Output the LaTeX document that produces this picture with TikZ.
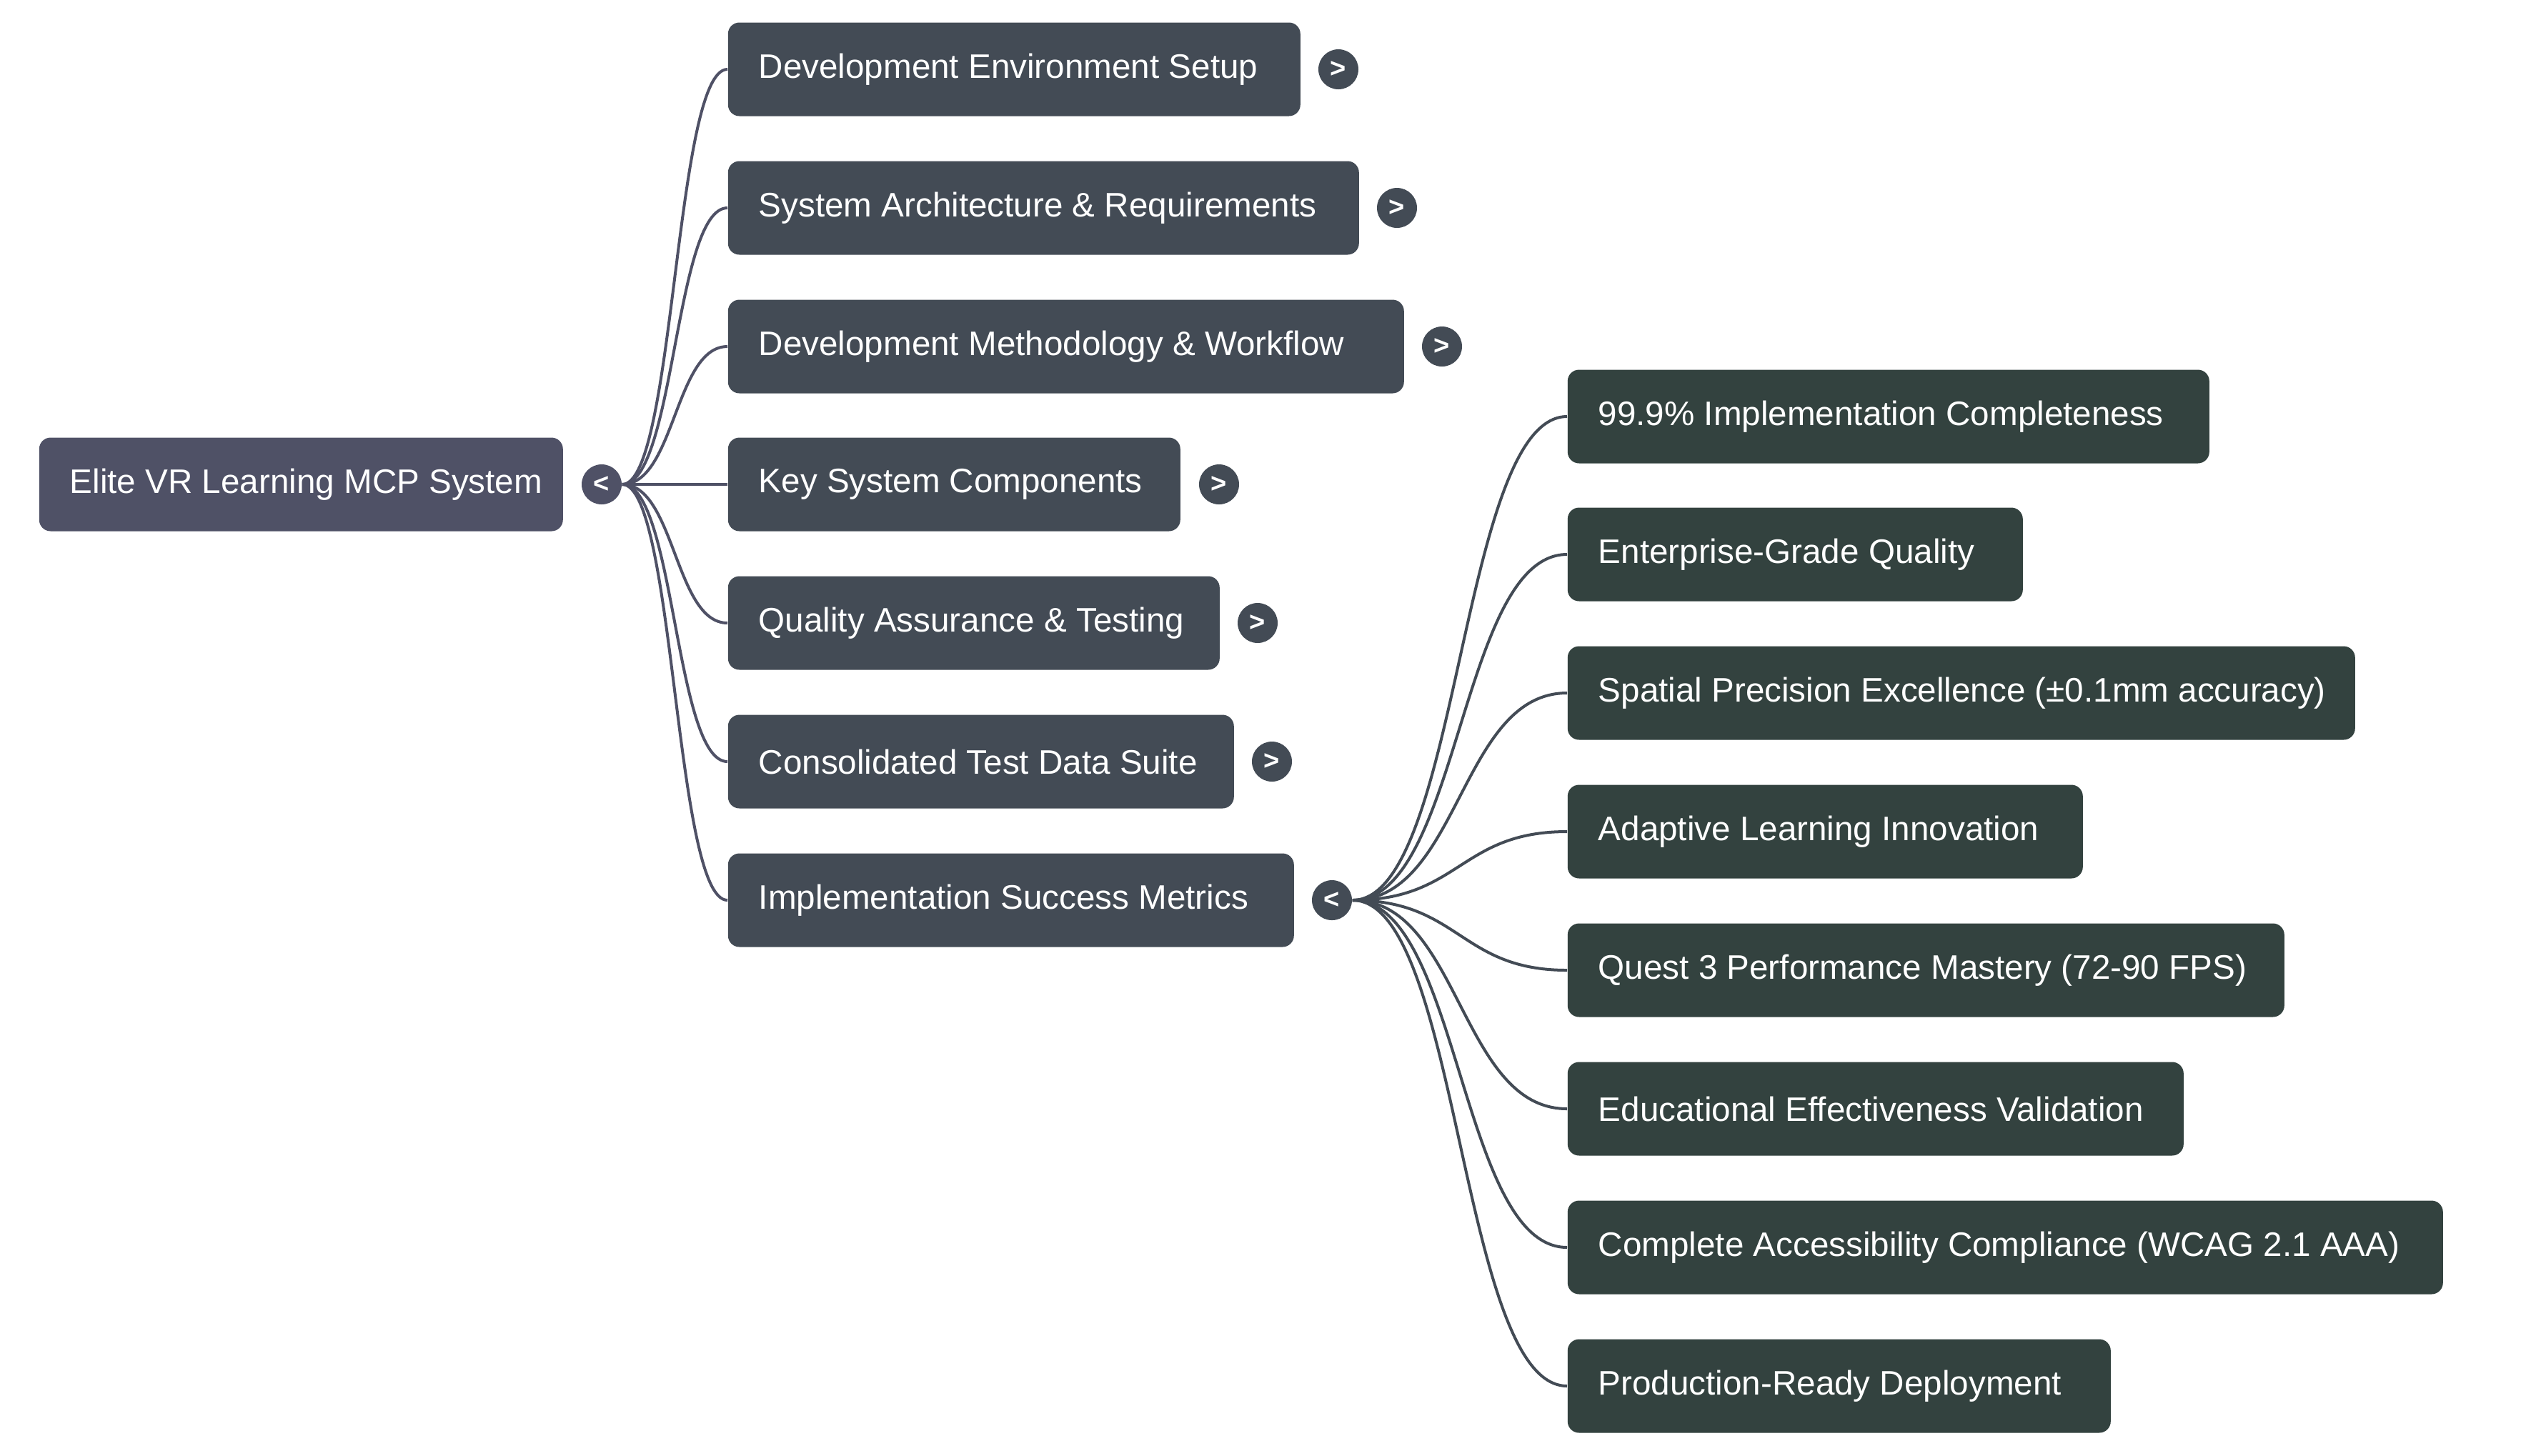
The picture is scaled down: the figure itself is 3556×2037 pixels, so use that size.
\documentclass[tikz,border=0pt]{standalone}
\usepackage{fontspec}
\setmainfont{Liberation Sans}
\usetikzlibrary{calc}
\definecolor{rootc}{HTML}{4F5166}
\definecolor{lonec}{HTML}{434B55}
\definecolor{ltwoc}{HTML}{33423F}
\newcommand\linkto[3]{\draw[#1] let \p1=(#2), \p2=(#3) in (\p1) .. controls ({(\x1+\x2)/2},\y1) and ({(\x1+\x2)/2},\y2) .. (\p2);}
\newcommand\bt[2]{\makebox[#1][l]{#2}}
\tikzset{
  mbox/.style={rectangle, rounded corners=4pt, anchor=west, text=white,
    minimum height=32.75pt, inner ysep=0pt, inner xsep=10.75pt,
    font=\fontsize{11.9}{14}\selectfont},
  rootbox/.style={mbox, fill=rootc},
  onebox/.style={mbox, fill=lonec},
  twobox/.style={mbox, fill=ltwoc},
  knob/.style={circle, minimum size=14pt, inner sep=0pt, text=white,
    font=\fontsize{9.5}{9.5}\selectfont\bfseries},
  rootlink/.style={draw=rootc, line width=1pt},
  onelink/.style={draw=lonec, line width=1pt}
}
\begin{document}
\begin{tikzpicture}[x=0.25pt, y=-0.25pt]
\useasboundingbox (0,0) rectangle (3556,2037);
% root
\node[rootbox] (root) at (54,678) {\bt{161.75pt}{Elite VR Learning MCP System}};
\node[knob, fill=rootc] (c0) at (842,678) {<};
% level one
\node[onebox] (n1) at (1018,97) {\bt{178.75pt}{Development Environment Setup}};
\node[onebox] (n2) at (1018,291) {\bt{199.25pt}{System Architecture \& Requirements}};
\node[onebox] (n3) at (1018,485) {\bt{215pt}{Development Methodology \& Workflow}};
\node[onebox] (n4) at (1018,678) {\bt{136.75pt}{Key System Components}};
\node[onebox] (n5) at (1018,872) {\bt{150.5pt}{Quality Assurance \& Testing}};
\node[onebox] (n6) at (1018,1066) {\bt{155.5pt}{Consolidated Test Data Suite}};
\node[onebox] (n7) at (1018,1260) {\bt{176.5pt}{Implementation Success Metrics}};
\node[knob, fill=lonec] (k1) at (1873,97) {>};
\node[knob, fill=lonec] (k2) at (1955,291) {>};
\node[knob, fill=lonec] (k3) at (2018,485) {>};
\node[knob, fill=lonec] (k4) at (1706,678) {>};
\node[knob, fill=lonec] (k5) at (1760,872) {>};
\node[knob, fill=lonec] (k6) at (1780,1066) {>};
\node[knob, fill=lonec] (k7) at (1864,1260) {<};
% level two
\node[twobox] (m1) at (2193,583) {\bt{203pt}{99.9\% Implementation Completeness}};
\node[twobox] (m2) at (2193,776) {\bt{137.75pt}{Enterprise-Grade Quality}};
\node[twobox] (m3) at (2193,970) {\bt{254pt}{Spatial Precision Excellence (±0.1mm accuracy)}};
\node[twobox] (m4) at (2193,1164) {\bt{158.75pt}{Adaptive Learning Innovation}};
\node[twobox] (m5) at (2193,1358) {\bt{229.25pt}{Quest 3 Performance Mastery (72-90 FPS)}};
\node[twobox] (m6) at (2193,1552) {\bt{194pt}{Educational Effectiveness Validation}};
\node[twobox] (m7) at (2193,1746) {\bt{284.75pt}{Complete Accessibility Compliance (WCAG 2.1 AAA)}};
\node[twobox] (m8) at (2193,1940) {\bt{168.5pt}{Production-Ready Deployment}};
% links
\foreach \nm in {n1,n2,n3,n4,n5,n6,n7} { \linkto{rootlink}{c0.east}{\nm.west} }
\foreach \nm in {m1,m2,m3,m4,m5,m6,m7,m8} { \linkto{onelink}{k7.east}{\nm.west} }
\end{tikzpicture}
\end{document}
